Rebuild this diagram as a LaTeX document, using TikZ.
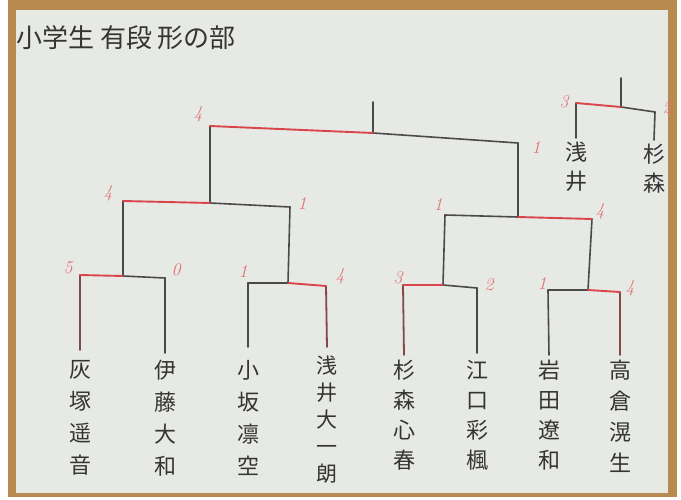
\documentclass[tikz,border=0pt]{standalone}
\usepackage{fontspec}
\newfontfamily\jpfont{Noto Sans CJK JP}
\usetikzlibrary{positioning}
\definecolor{paper}{HTML}{E7E9E5}
\definecolor{wood}{HTML}{B88A50}
\definecolor{pencil}{HTML}{4A4A4A}
\definecolor{redpen}{HTML}{D9464A}
\definecolor{scorered}{HTML}{E07476}
\tikzset{
  line/.style={draw=pencil, line width=1.6pt, line cap=round},
  winline/.style={draw=redpen, line width=1.9pt, line cap=round},
  winleaf/.style={draw=redpen!40!pencil, line width=1.8pt, line cap=round},
  score/.style={text=scorered, font=\itshape\fontsize{18}{18}\selectfont, inner sep=0pt},
  player/.style={font=\jpfont\fontsize{22}{32}\selectfont, text=pencil!70!black, align=center, inner sep=0pt, anchor=north},
}

\begin{document}
\begin{tikzpicture}[x=1pt,y=-1pt]
\useasboundingbox (0,0) rectangle (681,500);
% photo: board and paper
\fill[white] (0,0) rectangle (681,500);
\fill[wood] (8,0) rectangle (677,497);
\fill[paper] (16,10) rectangle (668,493);

% title
\node[anchor=west, font=\jpfont\fontsize{26}{26}\selectfont, text=pencil!70!black, inner sep=0pt] (title) at (16,38) {小学生 有段 形の部};

% players
\node[player] (p1) at (80,360) {灰\\塚\\遥\\音};
\node[player] (p2) at (165,360) {伊\\藤\\大\\和};
\node[player] (p3) at (248,360) {小\\坂\\凛\\空};
\node[player, font=\jpfont\fontsize{21}{27}\selectfont] (p4) at (327,356) {浅\\井\\大\\一\\朗};
\node[player, font=\jpfont\fontsize{22}{30}\selectfont] (p5) at (404,360) {杉\\森\\心\\春};
\node[player, font=\jpfont\fontsize{22}{30}\selectfont] (p6) at (477,360) {江\\口\\彩\\楓};
\node[player, font=\jpfont\fontsize{22}{30}\selectfont] (p7) at (549,360) {岩\\田\\遼\\和};
\node[player, font=\jpfont\fontsize{22}{31}\selectfont] (p8) at (620,360) {高\\倉\\滉\\生};

% first round
\coordinate (r1a) at (80,275);  \coordinate (r1j) at (123,276); \coordinate (r1b) at (165,278);
\coordinate (r2a) at (248,283); \coordinate (r2j) at (288,283); \coordinate (r2b) at (326,286);
\coordinate (r3a) at (403,285); \coordinate (r3j) at (443,285); \coordinate (r3b) at (477,288);
\coordinate (r4a) at (548,290); \coordinate (r4j) at (588,290); \coordinate (r4b) at (620,292);
% semis
\coordinate (s1a) at (123,201); \coordinate (s1j) at (210,203); \coordinate (s1b) at (290,207);
\coordinate (s2a) at (445,215); \coordinate (s2j) at (518,217); \coordinate (s2b) at (592,219);
% final
\coordinate (fa) at (210,126); \coordinate (fj) at (373,133); \coordinate (fb) at (518,143);
\coordinate (ftop) at (373,102);

% leaves
\draw[winleaf] (r1a) -- ([yshift=10pt]p1.north);
\draw[line] (r1b) -- ([yshift=7pt]p2.north);
\draw[line] (r2a) -- ([yshift=13pt]p3.north);
\draw[winleaf] (r2b) -- ([yshift=9pt]p4.north);
\draw[winleaf] (r3a) -- ([yshift=5pt]p5.north);
\draw[line] (r3b) -- ([yshift=7pt]p6.north);
\draw[line] (r4a) -- ([yshift=5pt]p7.north);
\draw[winleaf] (r4b) -- ([yshift=5pt]p8.north);

% bracket lines
\draw[line] (r1j) -- (r1b);
\draw[line] (r2a) -- (r2j);
\draw[line] (r3j) -- (r3b);
\draw[line] (r4a) -- (r4j);
\draw[line] (r1j) -- (s1a);
\draw[line] (r2j) -- (s1b);
\draw[line] (r3j) -- (s2a);
\draw[line] (r4j) -- (s2b);
\draw[line] (s1j) -- (s1b);
\draw[line] (s2a) -- (s2j);
\draw[line] (s1j) -- (fa);
\draw[line] (s2j) -- (fb);
\draw[line] (fj) -- (fb);
\draw[line] (ftop) -- (fj);
% winners in red
\draw[winline] (r1a) -- (r1j);
\draw[winline] (r2j) -- (r2b);
\draw[winline] (r3a) -- (r3j);
\draw[winline] (r4j) -- (r4b);
\draw[winline] (s1a) -- (s1j);
\draw[winline] (s2j) -- (s2b);
\draw[winline] (fa) -- (fj);

% scores
\node[score] (sc1) at (68,268) {5};
\node[score] (sc2) at (176,270) {0};
\node[score] (sc3) at (243,272) {1};
\node[score] (sc4) at (340,276) {4};
\node[score] (sc5) at (398,278) {3};
\node[score] (sc6) at (489,285) {2};
\node[score] (sc7) at (542,284) {1};
\node[score] (sc8) at (630,288) {4};
\node[score] (sc9) at (108,193) {4};
\node[score] (sc10) at (302,204) {1};
\node[score] (sc11) at (438,205) {1};
\node[score] (sc12) at (600,211) {4};
\node[score] (sc13) at (198,114) {4};
\node[score] (sc14) at (536,148) {1};

% third place
\node[player, font=\jpfont\fontsize{22}{29}\selectfont] (q1) at (576,142) {浅\\井};
\node[player, font=\jpfont\fontsize{22}{29}\selectfont] (q2) at (654,144) {杉\\森};
\coordinate (ttop) at (621,78); \coordinate (tj) at (621,107);
\coordinate (ta) at (576,103);  \coordinate (tb) at (655,112);
\draw[line] (ta) -- ([yshift=4pt]q1.north);
\draw[line] (tb) -- ([yshift=4pt]q2.north);
\draw[line] (tj) -- (tb);
\draw[line] (ttop) -- (tj);
\draw[winline] (ta) -- (tj);
\node[score] (sc15) at (564,102) {3};
\node[score] (sc16) at (667,108) {2};
\end{tikzpicture}
\end{document}
